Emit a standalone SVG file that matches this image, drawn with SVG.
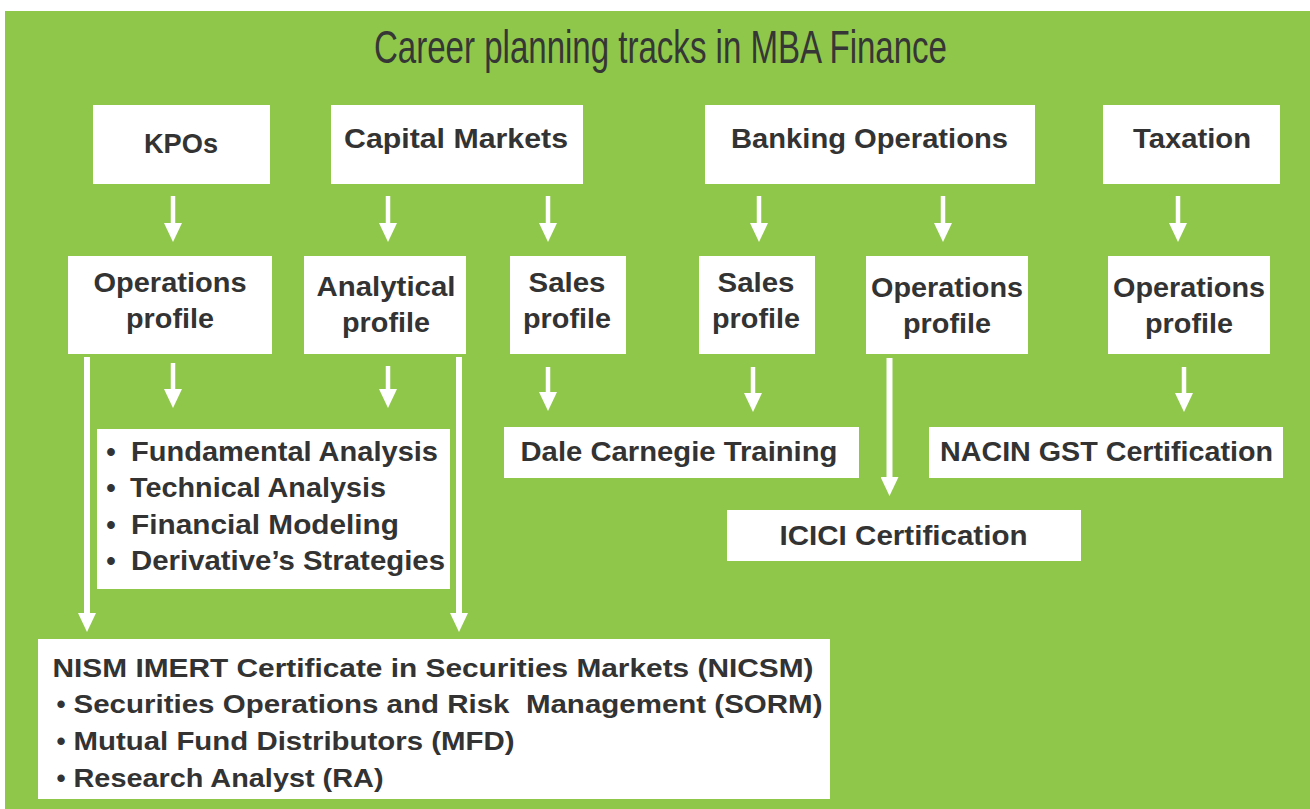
<svg xmlns="http://www.w3.org/2000/svg" width="1310" height="809" viewBox="0 0 1310 809">
<defs>
<style>
.box{fill:#ffffff}
.t{font-family:"Liberation Sans",Arial,"DejaVu Sans",sans-serif;font-weight:bold;fill:#333333}
.c{text-anchor:middle}
.f28{font-size:28px}
.f27{font-size:27px}
.f26{font-size:26px}
.title{font-family:"Liberation Sans Narrow","Liberation Sans",Arial,sans-serif;font-size:46px;fill:#363636}
.a{stroke:#ffffff;stroke-width:4.5;fill:none}
.al{stroke:#ffffff;stroke-width:6;fill:none}
</style>
<marker id="ah" viewBox="0 -9 19 18" markerWidth="19" markerHeight="18" refX="1" refY="0" markerUnits="userSpaceOnUse" orient="auto">
<path d="M0,-9 L19,0 L0,9 Z" fill="#ffffff"/>
</marker>
</defs>
<rect x="0" y="0" width="1310" height="809" fill="#ffffff"/>
<rect x="5" y="11" width="1305" height="798" fill="#8fc74b"/>
<text class="title" x="374" y="63" textLength="573" lengthAdjust="spacingAndGlyphs">Career planning tracks in MBA Finance</text>

<g id="connectors">
<line class="a" x1="173" y1="196" x2="173" y2="224" marker-end="url(#ah)"/>
<line class="a" x1="388" y1="196" x2="388" y2="224" marker-end="url(#ah)"/>
<line class="a" x1="548" y1="196" x2="548" y2="224" marker-end="url(#ah)"/>
<line class="a" x1="759" y1="196" x2="759" y2="224" marker-end="url(#ah)"/>
<line class="a" x1="943" y1="196" x2="943" y2="224" marker-end="url(#ah)"/>
<line class="a" x1="1178" y1="196" x2="1178" y2="224" marker-end="url(#ah)"/>
<line class="a" x1="173" y1="363" x2="173" y2="390" marker-end="url(#ah)"/>
<line class="a" x1="388" y1="366" x2="388" y2="390" marker-end="url(#ah)"/>
<line class="a" x1="548" y1="367" x2="548" y2="393" marker-end="url(#ah)"/>
<line class="a" x1="753" y1="367" x2="753" y2="394" marker-end="url(#ah)"/>
<line class="a" x1="1184" y1="367" x2="1184" y2="394" marker-end="url(#ah)"/>
<line class="al" x1="87" y1="357" x2="87" y2="614" marker-end="url(#ah)"/>
<line class="al" x1="459" y1="357" x2="459" y2="614" marker-end="url(#ah)"/>
<line class="al" x1="889.5" y1="358" x2="889.5" y2="478" marker-end="url(#ah)"/>
</g>

<g id="kpos">
<rect class="box" x="93" y="105" width="177" height="79"/>
<text class="t c f28" x="181" y="153" textLength="74" lengthAdjust="spacingAndGlyphs">KPOs</text>
</g>
<g id="capital-markets">
<rect class="box" x="331" y="105" width="252" height="79"/>
<text class="t c f28" x="456" y="148" textLength="224" lengthAdjust="spacingAndGlyphs">Capital Markets</text>
</g>
<g id="banking-operations">
<rect class="box" x="705" y="105" width="330" height="79"/>
<text class="t c f28" x="869.5" y="148" textLength="277" lengthAdjust="spacingAndGlyphs">Banking Operations</text>
</g>
<g id="taxation">
<rect class="box" x="1103" y="105" width="177" height="79"/>
<text class="t c f28" x="1192" y="148" textLength="118" lengthAdjust="spacingAndGlyphs">Taxation</text>
</g>

<g id="kpo-operations-profile">
<rect class="box" x="68" y="256" width="204" height="98"/>
<text class="t c f28" x="170" y="292" textLength="153" lengthAdjust="spacingAndGlyphs">Operations</text>
<text class="t c f28" x="170" y="328" textLength="88" lengthAdjust="spacingAndGlyphs">profile</text>
</g>
<g id="analytical-profile">
<rect class="box" x="304" y="256" width="162" height="98"/>
<text class="t c f28" x="386" y="296" textLength="139" lengthAdjust="spacingAndGlyphs">Analytical</text>
<text class="t c f28" x="386" y="332" textLength="88" lengthAdjust="spacingAndGlyphs">profile</text>
</g>
<g id="cm-sales-profile">
<rect class="box" x="510" y="256" width="116" height="98"/>
<text class="t c f28" x="567" y="292" textLength="77" lengthAdjust="spacingAndGlyphs">Sales</text>
<text class="t c f28" x="567" y="328" textLength="88" lengthAdjust="spacingAndGlyphs">profile</text>
</g>
<g id="bank-sales-profile">
<rect class="box" x="699" y="256" width="116" height="98"/>
<text class="t c f28" x="756" y="292" textLength="77" lengthAdjust="spacingAndGlyphs">Sales</text>
<text class="t c f28" x="756" y="328" textLength="88" lengthAdjust="spacingAndGlyphs">profile</text>
</g>
<g id="bank-operations-profile">
<rect class="box" x="866" y="256" width="162" height="98"/>
<text class="t c f28" x="947" y="297" textLength="152" lengthAdjust="spacingAndGlyphs">Operations</text>
<text class="t c f28" x="947" y="333" textLength="88" lengthAdjust="spacingAndGlyphs">profile</text>
</g>
<g id="tax-operations-profile">
<rect class="box" x="1108" y="256" width="162" height="98"/>
<text class="t c f28" x="1189" y="297" textLength="152" lengthAdjust="spacingAndGlyphs">Operations</text>
<text class="t c f28" x="1189" y="333" textLength="88" lengthAdjust="spacingAndGlyphs">profile</text>
</g>

<g id="analysis-skills">
<rect class="box" x="97" y="429" width="353" height="160"/>
<text class="t c f27" x="111" y="461">•</text>
<text class="t f27" x="131" y="461" textLength="307" lengthAdjust="spacingAndGlyphs">Fundamental Analysis</text>
<text class="t c f27" x="111" y="497">•</text>
<text class="t f27" x="130" y="497" textLength="256" lengthAdjust="spacingAndGlyphs">Technical Analysis</text>
<text class="t c f27" x="111" y="534">•</text>
<text class="t f27" x="131" y="534" textLength="268" lengthAdjust="spacingAndGlyphs">Financial Modeling</text>
<text class="t c f27" x="111" y="570">•</text>
<text class="t f27" x="131" y="570" textLength="314" lengthAdjust="spacingAndGlyphs">Derivative’s Strategies</text>
</g>
<g id="dale-carnegie">
<rect class="box" x="504" y="427" width="355" height="51"/>
<text class="t f27" x="520.5" y="461" textLength="317" lengthAdjust="spacingAndGlyphs">Dale Carnegie Training</text>
</g>
<g id="nacin-gst">
<rect class="box" x="929" y="427" width="354" height="51"/>
<text class="t f27" x="940" y="461" textLength="333" lengthAdjust="spacingAndGlyphs">NACIN GST Certification</text>
</g>
<g id="icici">
<rect class="box" x="727" y="510" width="354" height="51"/>
<text class="t f27" x="779.5" y="545" textLength="248" lengthAdjust="spacingAndGlyphs">ICICI Certification</text>
</g>
<g id="nism">
<rect class="box" x="38" y="639" width="792" height="160"/>
<text class="t f26" x="52.5" y="677" textLength="761" lengthAdjust="spacingAndGlyphs">NISM IMERT Certificate in Securities Markets (NICSM)</text>
<text class="t c f26" x="61" y="713">•</text>
<text class="t f26" x="73.5" y="713" textLength="749" lengthAdjust="spacingAndGlyphs" xml:space="preserve">Securities Operations and Risk  Management (SORM)</text>
<text class="t c f26" x="61" y="750">•</text>
<text class="t f26" x="73.5" y="750" textLength="441" lengthAdjust="spacingAndGlyphs">Mutual Fund Distributors (MFD)</text>
<text class="t c f26" x="61" y="787">•</text>
<text class="t f26" x="73.5" y="787" textLength="310" lengthAdjust="spacingAndGlyphs">Research Analyst (RA)</text>
</g>
</svg>
